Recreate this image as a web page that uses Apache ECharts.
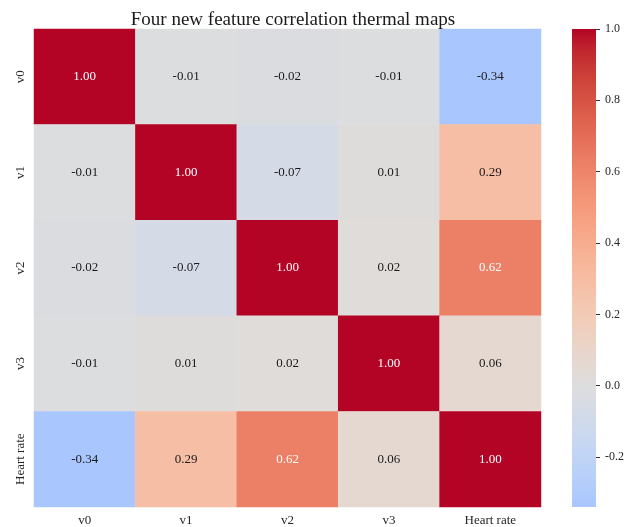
<!DOCTYPE html>
<html>
<head>
<meta charset="utf-8">
<title>Four new feature correlation thermal maps</title>
<script src="https://cdn.jsdelivr.net/npm/echarts@6/dist/echarts.min.js"></script>
<style>
  html, body { margin: 0; padding: 0; background: #ffffff; }
  #chart { width: 635px; height: 527px; }
</style>
</head>
<body>
<div id="chart"></div>
<script>
// Feature names (rows top-to-bottom, columns left-to-right)
const features = ['v0', 'v1', 'v2', 'v3', 'Heart rate'];

// Correlation matrix, one row per feature
const rowV0 = [1.00, -0.01, -0.02, -0.01, -0.34];
const rowV1 = [-0.01, 1.00, -0.07, 0.01, 0.29];
const rowV2 = [-0.02, -0.07, 1.00, 0.02, 0.62];
const rowV3 = [-0.01, 0.01, 0.02, 1.00, 0.06];
const rowHR = [-0.34, 0.29, 0.62, 0.06, 1.00];
const matrix = [rowV0, rowV1, rowV2, rowV3, rowHR];

// Colour scale range and colour bar tick labels
const scaleMin = -0.34;
const scaleMax = 1.0;
const barTicks = [-0.2, 0.0, 0.2, 0.4, 0.6, 0.8, 1.0];

// Diverging cool-warm palette, 33 evenly spaced control colours
const COOLWARM = [
  [59,76,192],[68,90,204],[77,104,215],[87,117,225],[98,130,234],[108,142,241],
  [119,154,247],[130,165,251],[141,176,254],[152,185,255],[163,194,255],[173,201,253],
  [184,208,249],[194,213,244],[204,217,238],[213,219,230],[221,221,221],[229,216,209],
  [236,211,197],[241,204,184],[245,196,172],[247,187,160],[247,177,148],[247,166,135],
  [244,154,123],[241,141,112],[236,127,101],[229,112,90],[222,96,77],[213,80,66],
  [203,62,56],[192,40,47],[180,4,38]
];

function coolwarmRGB(t) {
  t = Math.max(0, Math.min(1, t));
  const f = t * (COOLWARM.length - 1);
  const i = Math.min(Math.floor(f), COOLWARM.length - 2);
  const k = f - i;
  const a = COOLWARM[i], b = COOLWARM[i + 1];
  return [0, 1, 2].map(j => a[j] + (b[j] - a[j]) * k);
}
// Palette centred on zero: -1 -> cool end, +1 -> warm end
function valueRGB(v) { return coolwarmRGB((v + 1) / 2); }
function rgbStr(c) { return 'rgb(' + c.map(x => Math.round(x)).join(',') + ')'; }

// Evenly sampled colours across the visible range for the visual map
const N_SAMPLES = 60;
const rangeColors = [];
for (let i = 0; i <= N_SAMPLES; i++) {
  const v = scaleMin + (scaleMax - scaleMin) * i / N_SAMPLES;
  rangeColors.push(rgbStr(valueRGB(v)));
}

// Pick white text on dark cells, dark text on light cells
function textColorFor(v) {
  const lin = valueRGB(v).map(c => {
    c /= 255;
    return c <= 0.03928 ? c / 12.92 : Math.pow((c + 0.055) / 1.055, 2.4);
  });
  const lum = 0.2126 * lin[0] + 0.7152 * lin[1] + 0.0722 * lin[2];
  return lum < 0.408 ? '#ffffff' : '#1a1a1a';
}

const cells = [];
matrix.forEach((row, r) => {
  row.forEach((v, c) => {
    cells.push({ value: [c, r, v], label: { color: textColorFor(v) } });
  });
});

const FONT = "'Liberation Serif', 'Times New Roman', serif";

const chart = echarts.init(document.getElementById('chart'), null, { renderer: 'canvas' });

chart.setOption({
  backgroundColor: '#ffffff',
  animation: false,
  textStyle: { fontFamily: FONT },
  title: {
    text: 'Four new feature correlation thermal maps',
    left: 288,
    top: 6,
    textAlign: 'center',
    textStyle: { fontFamily: FONT, fontSize: 19, fontWeight: 'normal', color: '#1a1a1a' }
  },
  grid: [
    { left: 34, top: 29, width: 507, height: 478 },
    { left: 572, top: 29, width: 24, height: 478 }
  ],
  xAxis: [
    {
      type: 'category', gridIndex: 0, data: features,
      axisLine: { show: false }, axisTick: { show: false }, splitLine: { show: false },
      axisLabel: { fontFamily: FONT, fontSize: 13, color: '#262626', margin: 7 }
    },
    {
      type: 'category', gridIndex: 1, data: ['bar'], show: false
    }
  ],
  yAxis: [
    {
      type: 'category', gridIndex: 0, data: features, inverse: true,
      axisLine: { show: false }, axisTick: { show: false }, splitLine: { show: false },
      axisLabel: { fontFamily: FONT, fontSize: 13, color: '#262626', rotate: 90, margin: 7 }
    },
    {
      type: 'value', gridIndex: 1, position: 'right',
      min: scaleMin, max: scaleMax,
      axisLine: { show: false },
      splitLine: { show: false },
      axisTick: { show: true, length: 4, customValues: barTicks, lineStyle: { color: '#333333', width: 1 } },
      axisLabel: {
        customValues: barTicks, fontFamily: FONT, fontSize: 12, color: '#262626', margin: 9,
        formatter: v => Number(v).toFixed(1)
      }
    }
  ],
  visualMap: {
    type: 'continuous',
    show: false,
    seriesIndex: 0,
    dimension: 2,
    min: scaleMin,
    max: scaleMax,
    inRange: { color: rangeColors }
  },
  series: [
    {
      name: 'correlation',
      type: 'heatmap',
      xAxisIndex: 0, yAxisIndex: 0,
      data: cells,
      label: {
        show: true,
        fontFamily: FONT,
        fontSize: 13,
        formatter: p => p.value[2].toFixed(2)
      },
      itemStyle: { borderWidth: 0 },
      emphasis: { disabled: true }
    },
    {
      name: 'colour bar',
      type: 'custom',
      xAxisIndex: 1, yAxisIndex: 1,
      data: [[0, scaleMin, scaleMax]],
      renderItem: function (params, api) {
        const lo = api.value(1), hi = api.value(2);
        const pTop = api.coord([0, hi]);
        const pBot = api.coord([0, lo]);
        const w = api.size([1, 0])[0];
        const stops = [];
        const n = 60;
        for (let i = 0; i <= n; i++) {
          const v = hi - (hi - lo) * i / n;
          stops.push({ offset: i / n, color: rgbStr(valueRGB(v)) });
        }
        return {
          type: 'rect',
          shape: { x: pTop[0] - w / 2, y: pTop[1], width: w, height: pBot[1] - pTop[1] },
          style: { fill: new echarts.graphic.LinearGradient(0, 0, 0, 1, stops) },
          silent: true
        };
      }
    }
  ]
});
</script>
</body>
</html>
